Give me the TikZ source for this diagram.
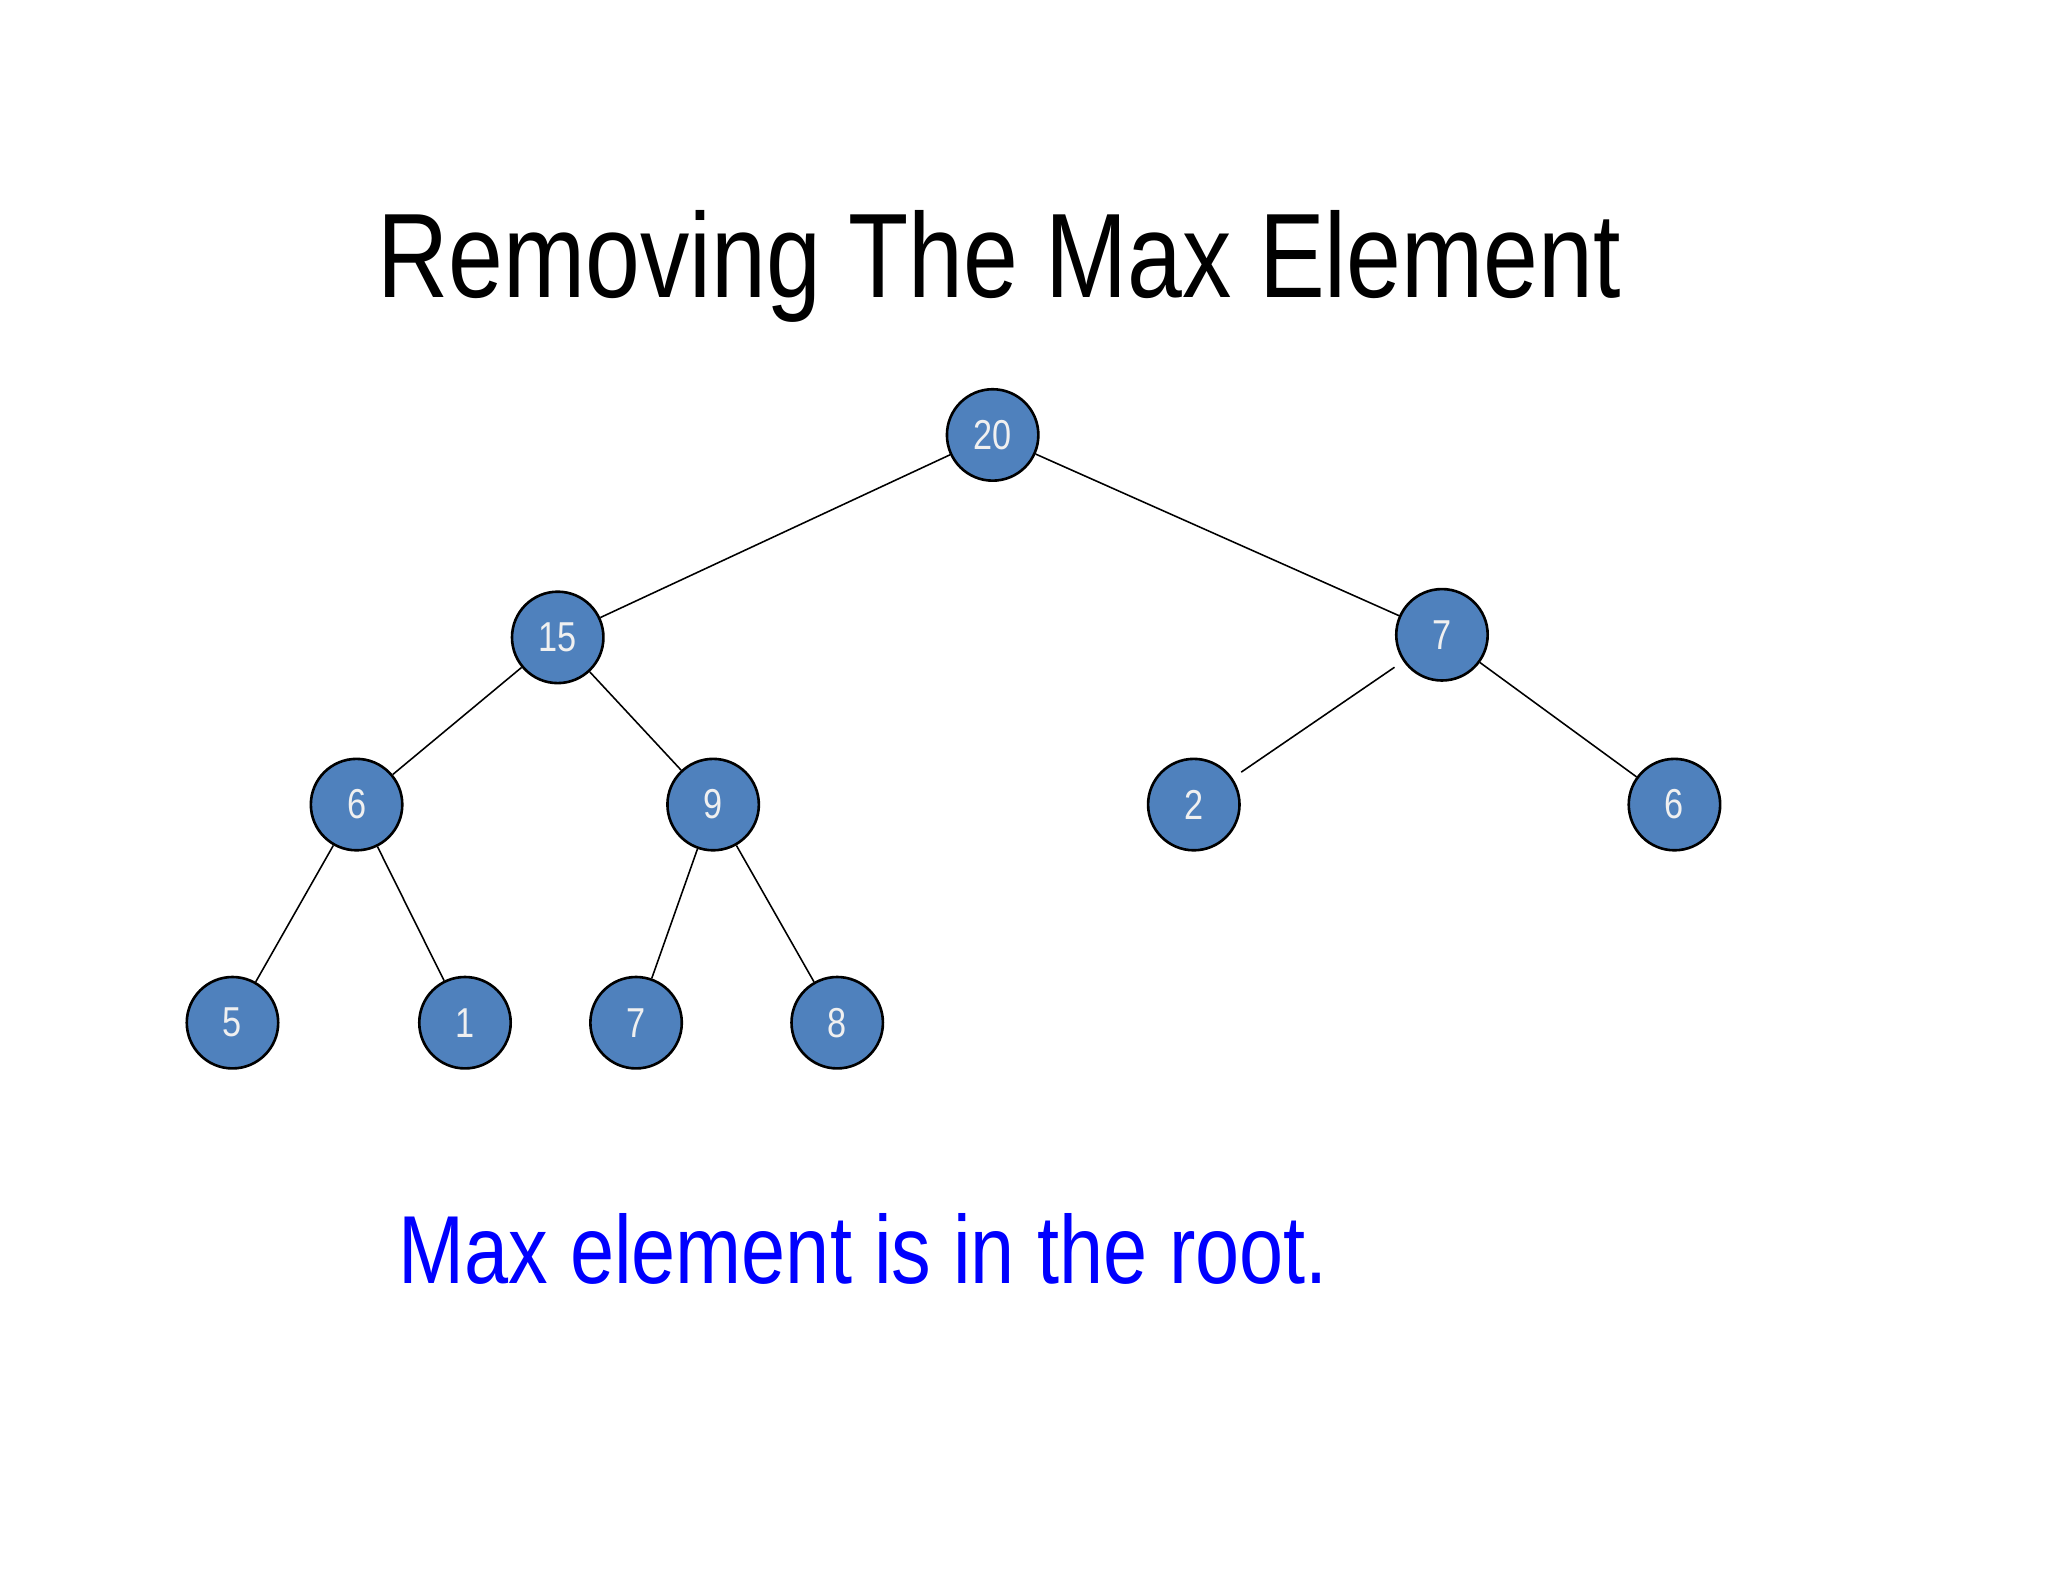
\documentclass[tikz,border=0pt]{standalone}
\usepackage{fontspec}
\setmainfont{Liberation Sans}[FakeStretch=0.82]
\begin{document}
\begin{tikzpicture}[x=0.5pt,y=-0.5pt,
  hn/.style={circle,draw=black,line width=1pt,fill={rgb,255:red,79;green,129;blue,189},minimum size=35pt,inner sep=0pt,text={rgb,255:red,240;green,240;blue,240},font=\fontsize{16}{16}\selectfont},
  edge/.style={line width=0.6pt}]
\useasboundingbox (0,0) rectangle (1568,1211);
\node[anchor=base,font=\fontsize{46}{46}\selectfont] (title) at (765,228) {Removing The Max Element};
\node[hn] (a) at (760,333) {20};
\node[hn] (b) at (427,488) {15};
\node[hn] (c) at (1104,486) {7};
\node[hn] (d) at (273,616) {6};
\node[hn] (e) at (546,616) {9};
\node[hn] (f) at (914,616) {2};
\node[hn] (g) at (1282,616) {6};
\node[hn] (h) at (178,783) {5};
\node[hn] (i) at (356,783) {1};
\node[hn] (j) at (487,783) {7};
\node[hn] (k) at (641,783) {8};
\draw[edge] (a) -- (b); \draw[edge] (a) -- (c);
\draw[edge] (b) -- (d); \draw[edge] (b) -- (e);
\draw[edge,shorten <=4pt,shorten >=4pt] (c) -- (f); \draw[edge] (c) -- (g);
\draw[edge] (d) -- (h); \draw[edge] (d) -- (i);
\draw[edge] (e) -- (j); \draw[edge] (e) -- (k);
\node[anchor=base west,text=blue,font=\fontsize{37}{37}\selectfont] (note) at (298,983) {Max element is in the root.};
\end{tikzpicture}
\end{document}
